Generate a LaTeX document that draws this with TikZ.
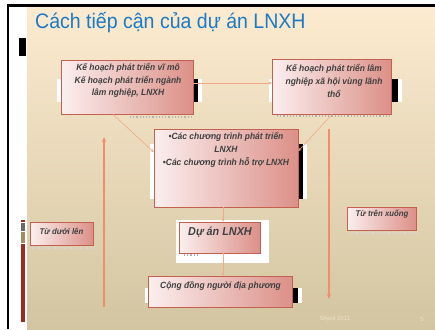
\documentclass[tikz,border=0pt]{standalone}
\usepackage{fontspec}
\setmainfont{Liberation Sans}
\newfontfamily\titlefont[FakeStretch=0.93]{Liberation Sans}
\newfontfamily\boxfont[FakeStretch=0.94]{Liberation Sans}
\usetikzlibrary{arrows.meta}
\definecolor{titleblue}{HTML}{1A7AC6}
\definecolor{bgtop}{HTML}{FCEBD0}
\definecolor{bgmid}{HTML}{F1EBD8}
\definecolor{bgbot}{HTML}{D3C5A1}
\definecolor{boxleft}{HTML}{FBEFEF}
\definecolor{boxright}{HTML}{DC9088}
\definecolor{boxedge}{HTML}{C4604F}
\definecolor{txtgray}{HTML}{404040}
\definecolor{conn}{HTML}{EF8E6E}
\definecolor{connlight}{HTML}{F3A888}
\definecolor{barred}{HTML}{9E2A20}
\definecolor{bargray}{HTML}{6A6A6A}
\definecolor{bartan}{HTML}{A08A68}
\definecolor{footcol}{HTML}{EDE3CC}
\tikzset{
  box/.style={draw=boxedge, line width=0.8pt, left color=boxleft, right color=boxright, inner sep=0pt},
  btxt/.style={text=txtgray, font=\fontsize{9}{12.8}\selectfont\boxfont\bfseries\itshape, align=center, inner sep=0pt},
  thinarrow/.style={draw=connlight, line width=0.6pt, -{Stealth[length=3pt,width=3pt]}},
  mainarrow/.style={draw=conn, line width=1.3pt, -{Stealth[length=5pt,width=4pt]}},
  patch/.style={fill=white},
  blk/.style={fill=black},
  shadowline/.style={draw=gray!60, dotted, line width=1.2pt}
}
\begin{document}
\begin{tikzpicture}[x=1pt,y=-1pt]
\useasboundingbox (0,0) rectangle (435,329);
\fill[white] (0,0) rectangle (435,329);
% slide background
\shade[top color=bgtop, middle color=bgmid, bottom color=bgbot] (27,6.5) rectangle (435,329);
% frame
\draw[black, line width=2.3pt] (8,329) -- (8,5.5) -- (435,5.5);
\fill[black] (19,38) rectangle (26,56);
% left bars
\fill[barred] (21,220) rectangle (25,222);
\fill[bargray] (21,222.5) rectangle (25,230.5);
\fill[bartan] (21,232) rectangle (25,242.5);
\fill[barred] (21,244) rectangle (25,322);
% title
\node[anchor=base west, text=titleblue, font=\fontsize{21}{24}\selectfont\titlefont, inner sep=0pt] (title) at (35,29) {Cách tiếp cận của dự án LNXH};
% patches behind boxes
\fill[patch] (57,79) rectangle (202,102);
\fill[blk] (193,79) rectangle (198,102);
\fill[patch] (269,79) rectangle (402,102);
\fill[blk] (391,79) rectangle (398,102);
\fill[patch] (150,144) rectangle (307,199);
\fill[blk] (298,144) rectangle (303,199);
\fill[patch] (176,220) rectangle (269,263);
\fill[patch] (145,288) rectangle (302,303);
\fill[blk] (292,288) rectangle (298,303);
% shadows
\draw[shadowline] (130,117) -- (193,117);
\draw[shadowline] (277,116) -- (392,116);
\draw[shadowline] (184,255) -- (197,255);
\draw[shadowline, draw=gray!30] (32,248) -- (95,248);
\draw[shadowline, draw=gray!30] (350,233) -- (418,233);
% boxes
\node[box, minimum width=132pt, minimum height=54pt] (A) at (127,87) {};
\node[box, minimum width=119pt, minimum height=55pt] (B) at (331.5,86.5) {};
\node[box, minimum width=144pt, minimum height=78pt] (C) at (226,168) {};
\node[box, minimum width=81pt, minimum height=31pt] (D) at (219.5,237.5) {};
\node[box, minimum width=144pt, minimum height=31pt] (E) at (220,291.5) {};
\node[box, minimum width=63pt, minimum height=23pt] (L) at (61.5,233.5) {};
\node[box, minimum width=69pt, minimum height=23pt] (R) at (381.5,218.5) {};
% texts
\node[btxt] (At) at (128,80.5) {Kế hoạch phát triển vĩ mô\\Kế hoạch phát triển ngành\\lâm nghiệp, LNXH};
\node[btxt] (Bt) at (334,81) {Kế hoạch phát triển lâm\\nghiệp xã hội vùng lãnh\\thổ};
\node[btxt] (Ct) at (226,150) {•Các chương trình phát triển\\LNXH\\•Các chương trình hỗ trợ LNXH};
\node[btxt, font=\fontsize{11.5}{13}\selectfont\boxfont\bfseries\itshape] (Dt) at (220,232) {Dự án LNXH};
\node[btxt] (Et) at (220.5,286) {Cộng đồng người địa phương};
\node[btxt, font=\fontsize{8.3}{9}\selectfont\boxfont\bfseries\itshape] (Lt) at (61.5,231) {Từ dưới lên};
\node[btxt, font=\fontsize{8.3}{9}\selectfont\boxfont\bfseries\itshape] (Rt) at (382,214) {Từ trên xuống};
% connectors
\draw[thinarrow] (A.east |- 0,83) -- (B.west |- 0,83);
\draw[thinarrow] (A.south -| 113,0) -- (C.west |- 0,152);
\draw[thinarrow] (B.south -| 332,0) -- (C.east |- 0,151);
\draw[thinarrow] (C.south -| 223,0) -- (D.north -| 223,0);
\draw[thinarrow] (D.south -| 223,0) -- (E.north -| 223,0);
% side arrows
\coordinate (upS) at (104,307);
\coordinate (upE) at (104,137);
\coordinate (dnS) at (329,129);
\coordinate (dnE) at (329,299);
\draw[mainarrow] (upS) -- (upE);
\draw[mainarrow] (dnS) -- (dnE);
% footer
\node[text=footcol, font=\fontsize{6}{7}\selectfont, inner sep=0pt] (date) at (335,319) {5April 2011};
\node[text=footcol, font=\fontsize{6}{7}\selectfont, inner sep=0pt] (page) at (422,319) {5};
\end{tikzpicture}
\end{document}
